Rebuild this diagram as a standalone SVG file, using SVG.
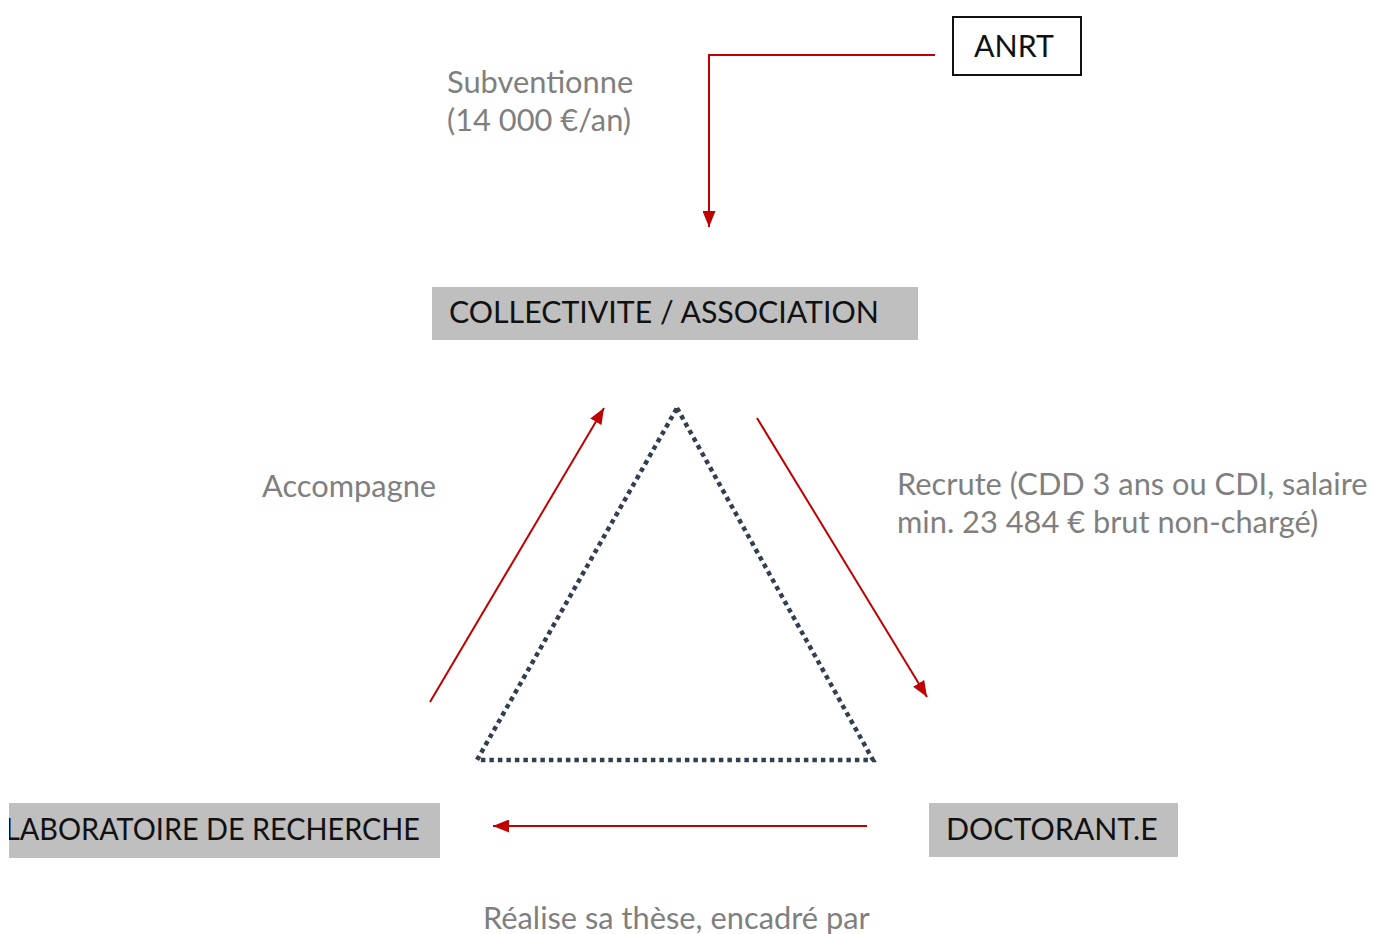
<svg xmlns="http://www.w3.org/2000/svg" width="1373" height="934" viewBox="0 0 1373 934">
<style>
.lbl{font-family:Lato,"Open Sans","Liberation Sans",sans-serif;font-size:30.8px;fill:#7f7f7f}
.nt{font-family:Lato,"Open Sans","Liberation Sans",sans-serif;font-size:30.3px;fill:#111}
.gbox{fill:#bfbfbf}
.conn{stroke:#c00000;stroke-width:2;fill:none}
</style>
<defs>
<marker id="ah" viewBox="0 0 16 13" refX="16" refY="6.5" markerWidth="16" markerHeight="13" orient="auto" markerUnits="userSpaceOnUse">
<path d="M0,0 L16,6.5 L0,13 z" fill="#c00000"/>
</marker>
<clipPath id="labclip"><rect x="9" y="803" width="431" height="55"/></clipPath>
</defs>
<rect width="1373" height="934" fill="#fff"/>
<g id="anrt">
<rect x="953" y="17" width="128" height="58" fill="#fff" stroke="#111" stroke-width="2"/>
<text class="nt" x="974" y="57">ANRT</text>
</g>
<g id="collectivite">
<rect class="gbox" x="432" y="287" width="486" height="53"/>
<text class="nt" x="449" y="323">COLLECTIVITE / ASSOCIATION</text>
</g>
<g id="laboratoire">
<rect class="gbox" x="9" y="803" width="431" height="55"/>
<text class="nt" x="5" y="840" textLength="415" lengthAdjust="spacingAndGlyphs" clip-path="url(#labclip)">LABORATOIRE DE RECHERCHE</text>
</g>
<g id="doctorant">
<rect class="gbox" x="929" y="803" width="249" height="54"/>
<text class="nt" x="946" y="840">DOCTORANT.E</text>
</g>
<g id="triangle">
<path d="M677,408 L873,760 L477,760 Z" fill="none" stroke="#333f50" stroke-width="4.5" stroke-dasharray="4.5 4"/>
</g>
<g id="connectors">
<path class="conn" d="M935,55 H709 V227" marker-end="url(#ah)"/>
<path class="conn" d="M430,702 L604,408" marker-end="url(#ah)" stroke-width="1.6"/>
<path class="conn" d="M757,418 L927,697" marker-end="url(#ah)" stroke-width="1.6"/>
<path class="conn" d="M867,826 H493" marker-end="url(#ah)"/>
</g>
<g id="labels">
<text class="lbl" x="447" y="93">Subventionne</text>
<text class="lbl" x="447" y="131">(14 000 €/an)</text>
<text class="lbl" x="262" y="497">Accompagne</text>
<text class="lbl" x="897" y="495">Recrute (CDD 3 ans ou CDI, salaire</text>
<text class="lbl" x="897" y="533">min. 23 484 € brut non-chargé)</text>
<text class="lbl" x="483" y="929">Réalise sa thèse, encadré par</text>
</g>
</svg>
